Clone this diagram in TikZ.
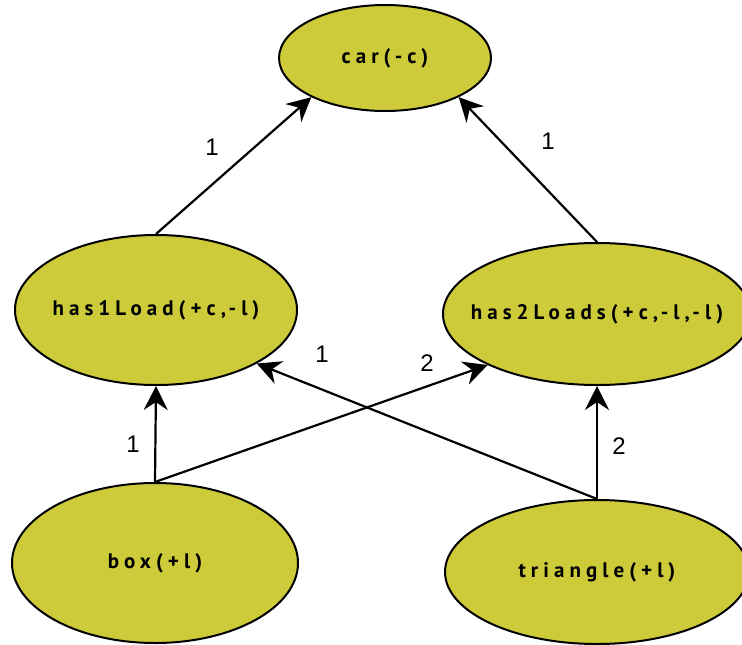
\documentclass[tikz,border=0pt]{standalone}
\usepackage{fontspec}
\setmainfont{Liberation Sans}
\newfontfamily\prednodefont[LetterSpace=24]{PT Sans}
\usetikzlibrary{shapes.geometric,arrows.meta}
\definecolor{predfill}{HTML}{CDCB3A}

\begin{document}
\begin{tikzpicture}[x=1pt,y=-1pt,
	pred/.style={ellipse, draw, line width=2pt, fill=predfill, inner xsep=-45pt, inner ysep=0pt,
		font=\prednodefont\bfseries\fontsize{21}{24}\selectfont},
	link/.style={line width=2.2pt, -{Stealth[length=24pt,width=24pt,inset=8pt]}},
	wt/.style={font=\fontsize{24}{28}\selectfont, inner sep=0pt}]
	\useasboundingbox (0,0) rectangle (742,645);
	\clip (0,0) rectangle (742,645);

	% predicates
	\node[pred, minimum width=212pt, minimum height=106pt] (car) at (385,58) {car(-c)};
	\node[pred, minimum width=282pt, minimum height=150pt] (has1) at (156,310) {has1Load(+c,-l)};
	\node[pred, minimum width=308pt, minimum height=142pt] (has2) at (597,314) {has2Loads(+c,-l,-l)};
	\node[pred, minimum width=286pt, minimum height=160pt] (box) at (155,563) {box(+l)};
	\node[pred, minimum width=304pt, minimum height=144pt] (tri) at (597,572) {triangle(+l)};

	% links
	\draw[link] (has1.north) -- (car.208);
	\draw[link] (has2.north) -- (car.332);
	\draw[link] (box.north) -- (has1.south);
	\draw[link] (box.north) -- (has2.205);
	\draw[link] (tri.north) -- (has1.332);
	\draw[link] (tri.north) -- (has2.south);

	% weights
	\node[wt] (w1) at (212,147) {1};
	\node[wt] (w2) at (548,141) {1};
	\node[wt] (w3) at (133,444) {1};
	\node[wt] (w4) at (427,363) {2};
	\node[wt] (w5) at (322,354) {1};
	\node[wt] (w6) at (619,446) {2};

\end{tikzpicture}
\end{document}
